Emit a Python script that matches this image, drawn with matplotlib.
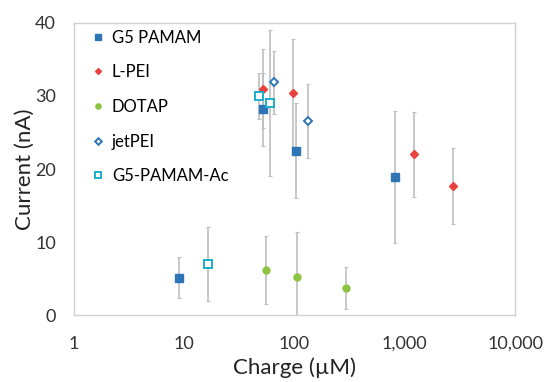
import numpy as np
import matplotlib.pyplot as plt
from matplotlib.ticker import FuncFormatter, FixedLocator

plt.rcParams['font.family'] = ['Lato', 'DejaVu Sans']

# ---- data ----
g5_x = [9, 52, 102, 820]
g5_y = [5.1, 28.2, 22.5, 18.9]
g5_err = [2.8, 5.0, 6.5, 9.0]

lpei_x = [52, 97, 1200, 2750]
lpei_y = [31.0, 30.4, 22.0, 17.7]
lpei_err = [5.4, 7.4, 5.8, 5.2]

dotap_x = [55, 105, 290]
dotap_y = [6.2, 5.2, 3.7]
dotap_err = [4.7, 6.2, 2.9]

jet_x = [65, 132]
jet_y = [31.9, 26.6]
jet_err = [4.3, 5.1]

ac_x = [16.5, 48, 60]
ac_y = [7.0, 30.0, 29.0]
ac_err = [5.0, 3.2, 10.0]

series = [
    ("G5 PAMAM", g5_x, g5_y, g5_err, dict(marker="s", ms=5.5, mfc="#2E75B6", mec="#2E75B6")),
    ("L-PEI", lpei_x, lpei_y, lpei_err, dict(marker="D", ms=4, mfc="#E8413E", mec="#E8413E")),
    ("DOTAP", dotap_x, dotap_y, dotap_err, dict(marker="o", ms=5, mfc="#8CC43F", mec="#8CC43F")),
    ("jetPEI", jet_x, jet_y, jet_err, dict(marker="D", ms=4.5, mfc="white", mec="#2E75B6", mew=1.4)),
    ("G5-PAMAM-Ac", ac_x, ac_y, ac_err, dict(marker="s", ms=6, mfc="white", mec="#1AAFCC", mew=1.4)),
]

fig = plt.figure(figsize=(5.45, 3.82), dpi=100)
ax = fig.add_axes([0.136, 0.175, 0.809, 0.765])

for name, x, y, err, style in series:
    ax.errorbar(x, y, yerr=err, fmt="none", ecolor="#BFBFBF", elinewidth=1.2,
                capsize=1.5, capthick=0.8, zorder=2)
    ax.plot(x, y, linestyle="none", label=name, zorder=3, **style)

ax.set_xscale("log")
ax.set_xlim(1, 10000)
ax.set_ylim(0, 40)
ax.xaxis.set_major_locator(FixedLocator([1, 10, 100, 1000, 10000]))
ax.xaxis.set_minor_locator(FixedLocator([]))
ax.xaxis.set_major_formatter(FuncFormatter(lambda v, p: f"{int(v):,}"))
ax.set_yticks([0, 10, 20, 30, 40])
ax.tick_params(length=0, labelsize=13, colors="#333333")
ax.tick_params(axis="x", pad=15)
ax.tick_params(axis="y", pad=13)

for s in ax.spines.values():
    s.set_color("#D0D0D0")
    s.set_linewidth(1.0)

ax.set_xlabel("Charge (\u00b5M)", fontsize=16, color="#222222", labelpad=4)
ax.set_ylabel("Current (nA)", fontsize=16, color="#222222", labelpad=0)

ax.legend(loc="upper left", frameon=False, fontsize=12, handlelength=0.7,
          handletextpad=0.5, labelspacing=1.12, borderaxespad=0.0,
          markerscale=0.75, bbox_to_anchor=(0.025, 1.0))

fig.savefig("out.png", dpi=100)
